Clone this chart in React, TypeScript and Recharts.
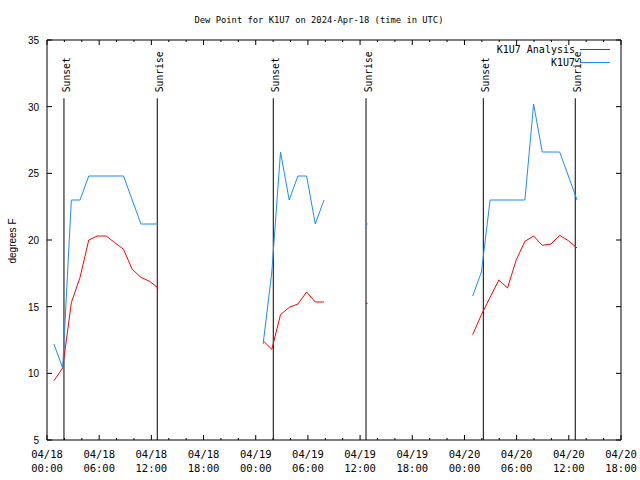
import React from "react";
import { Legend, Line, LineChart, ReferenceLine, XAxis, YAxis } from "recharts";

// hours since 04/18 00:00 UTC; the lone rows at 18, 34 and 42 only break the lines
const hours = [
  0.8, 1.8, 2.8, 3.8, 4.8, 5.8, 6.8, 7.8, 8.8, 9.8, 10.8, 11.8, 12.8,
  18,
  24.85, 25.85, 26.85, 27.85, 28.85, 29.85, 30.85, 31.85,
  34,
  36.75,
  42,
  48.95, 49.95, 50.95, 51.95, 52.95, 53.95, 54.95, 55.95, 56.95, 57.95, 58.95, 59.95, 60.95,
];

const analysis = [
  9.45, 10.4, 15.3, 17.2, 20.0, 20.3, 20.3, 19.8, 19.3, 17.8, 17.2, 16.9, 16.4,
  null,
  12.45, 11.8, 14.4, 14.95, 15.2, 16.1, 15.35, 15.35,
  null,
  15.25,
  null,
  12.9, 14.4, 15.7, 17.0, 16.4, 18.5, 19.9, 20.3, 19.6, 19.7, 20.35, 19.95, 19.4,
];

const observed = [
  12.2, 10.4, 23.0, 23.0, 24.8, 24.8, 24.8, 24.8, 24.8, 23.0, 21.2, 21.2, 21.2,
  null,
  12.2, 17.6, 26.6, 23.0, 24.8, 24.8, 21.2, 23.0,
  null,
  21.2,
  null,
  15.8, 17.6, 23.0, 23.0, 23.0, 23.0, 23.0, 30.2, 26.6, 26.6, 26.6, 24.8, 23.0,
];

const sunTimes = [1.95, 12.68, 26.02, 36.68, 50.17, 60.74];
const sunLabels = ["Sunset", "Sunrise", "Sunset", "Sunrise", "Sunset", "Sunrise"];

const tickDates = ["04/18", "04/18", "04/18", "04/18", "04/19", "04/19", "04/19", "04/19", "04/20", "04/20", "04/20", "04/20"];
const tickTimes = ["00:00", "06:00", "12:00", "18:00", "00:00", "06:00", "12:00", "18:00", "00:00", "06:00", "12:00", "18:00"];
const xTicks = [0, 2, 4, 6, 8, 10, 12, 14, 16, 18, 20, 22, 24, 26, 28, 30, 32, 34, 36, 38, 40, 42, 44, 46, 48, 50, 52, 54, 56, 58, 60, 62, 64, 66];
const yTicks = [5, 10, 15, 20, 25, 30, 35];

const RED = "#ff0000";
const BLUE = "#1a8cff";
const MONO = "'DejaVu Sans Mono', monospace";
const SANS = "'Liberation Sans', Arial, sans-serif";

const data = hours.map((t, i) => ({ t, analysis: analysis[i], observed: observed[i] }));

function loneDot(values: (number | null)[], color: string) {
  return (p: any) => {
    const i = p.index;
    const lone = values[i] != null && values[i - 1] == null && values[i + 1] == null;
    if (!lone) return <g key={`d-${i}`} />;
    return <rect key={`d-${i}`} x={p.cx - 1} y={p.cy - 0.5} width={2} height={1} fill={color} />;
  };
}

function BottomTick({ x, y, payload }: any) {
  const v = payload.value;
  const major = v % 6 === 0;
  const idx = v / 6;
  return (
    <g>
      <line x1={x} x2={x} y1={y} y2={y - (major ? 5 : 2)} stroke="#000" />
      {major && (
        <text x={x} y={y + 18} textAnchor="middle" fontFamily={MONO} fontSize={10.5} fill="#000">
          <tspan x={x}>{tickDates[idx]}</tspan>
          <tspan x={x} dy={14}>{tickTimes[idx]}</tspan>
        </text>
      )}
    </g>
  );
}

function TopTick({ x, y, payload }: any) {
  const major = payload.value % 6 === 0;
  return <line x1={x} x2={x} y1={y} y2={y + (major ? 5 : 2)} stroke="#000" />;
}

function LeftTick({ x, y, payload }: any) {
  return (
    <g>
      <line x1={x} x2={x + 5} y1={y} y2={y} stroke="#000" />
      <text x={x - 8} y={y} dy={4} textAnchor="end" fontFamily={SANS} fontSize={10} fill="#000">
        {payload.value}
      </text>
    </g>
  );
}

function RightTick({ x, y }: any) {
  return <line x1={x} x2={x - 5} y1={y} y2={y} stroke="#000" />;
}

function sunShape(label: string) {
  return (p: any) => {
    const top = Math.min(p.y1, p.y2);
    const bottom = Math.max(p.y1, p.y2);
    const lx = p.x1;
    return (
      <g>
        <line x1={lx} x2={lx} y1={top} y2={bottom} stroke="#000" strokeWidth={1} />
        <text
          x={lx + 6}
          y={top - 6}
          transform={`rotate(-90 ${lx + 6} ${top - 6})`}
          textAnchor="start"
          fontFamily={MONO}
          fontSize={9.7}
          fill="#000"
        >
          {label}
        </text>
      </g>
    );
  };
}

function LegendBox() {
  const rows = [
    { name: "K1U7 Analysis", color: RED, y: 49 },
    { name: "K1U7", color: BLUE, y: 62 },
  ];
  return (
    <div style={{ position: "relative", width: 640, height: 0 }}>
      {rows.map((r) => (
        <React.Fragment key={r.name}>
          <div
            style={{
              position: "absolute",
              right: 65,
              top: r.y - 6,
              fontFamily: MONO,
              fontSize: 10,
              lineHeight: "13px",
              whiteSpace: "pre",
              color: "#000",
            }}
          >
            {r.name}
          </div>
          <div style={{ position: "absolute", left: 580, top: r.y, width: 30, height: 1, background: r.color }} />
        </React.Fragment>
      ))}
    </div>
  );
}

export default function App() {
  return (
    <div style={{ position: "absolute", left: 0, top: 0, width: 640, height: 480, background: "#fff" }}>
      <div
        style={{
          position: "absolute",
          left: 0,
          top: 14,
          width: 638,
          textAlign: "center",
          fontFamily: MONO,
          fontSize: 8.8,
          lineHeight: "12px",
          color: "#000",
        }}
      >
        Dew Point for K1U7 on 2024-Apr-18 (time in UTC)
      </div>
      <div
        style={{
          position: "absolute",
          left: 13,
          top: 241,
          transform: "translate(-50%, -50%) rotate(-90deg)",
          fontFamily: SANS,
          fontSize: 10,
          lineHeight: "12px",
          whiteSpace: "nowrap",
          color: "#000",
        }}
      >
        degrees F
      </div>
      <LineChart width={640} height={480} data={data} margin={{ top: 0, right: 0, bottom: 0, left: 0 }}>
        <XAxis
          type="number"
          dataKey="t"
          domain={[0, 66]}
          ticks={xTicks}
          interval={0}
          height={40}
          tickSize={0}
          tickMargin={0}
          tickLine={false}
          axisLine={{ stroke: "#000" }}
          tick={<BottomTick />}
          allowDataOverflow
        />
        <XAxis
          xAxisId="top"
          orientation="top"
          type="number"
          dataKey="t"
          domain={[0, 66]}
          ticks={xTicks}
          interval={0}
          height={40}
          tickSize={0}
          tickMargin={0}
          tickLine={false}
          axisLine={{ stroke: "#000" }}
          tick={<TopTick />}
          allowDataOverflow
        />
        <YAxis
          type="number"
          domain={[5, 35]}
          ticks={yTicks}
          interval={0}
          width={47}
          tickSize={0}
          tickMargin={0}
          tickLine={false}
          axisLine={{ stroke: "#000" }}
          tick={<LeftTick />}
          allowDataOverflow
        />
        <YAxis
          yAxisId="right"
          orientation="right"
          type="number"
          domain={[5, 35]}
          ticks={yTicks}
          interval={0}
          width={19}
          tickSize={0}
          tickMargin={0}
          tickLine={false}
          axisLine={{ stroke: "#000" }}
          tick={<RightTick />}
          allowDataOverflow
        />
        <Legend
          layout="horizontal"
          verticalAlign="middle"
          align="center"
          wrapperStyle={{ top: 0, left: 0, width: 640, height: 0 }}
          content={() => <LegendBox />}
        />
        {sunTimes.map((t, i) => (
          <ReferenceLine
            key={`sun-${i}`}
            segment={[
              { x: t, y: 5 },
              { x: t, y: 30.63 },
            ]}
            stroke="#000"
            shape={sunShape(sunLabels[i])}
          />
        ))}
        <Line
          type="linear"
          dataKey="analysis"
          stroke={RED}
          strokeWidth={1}
          dot={loneDot(analysis, RED)}
          activeDot={false}
          connectNulls={false}
          isAnimationActive={false}
        />
        <Line
          type="linear"
          dataKey="observed"
          stroke={BLUE}
          strokeWidth={1}
          dot={loneDot(observed, BLUE)}
          activeDot={false}
          connectNulls={false}
          isAnimationActive={false}
        />
      </LineChart>
    </div>
  );
}
